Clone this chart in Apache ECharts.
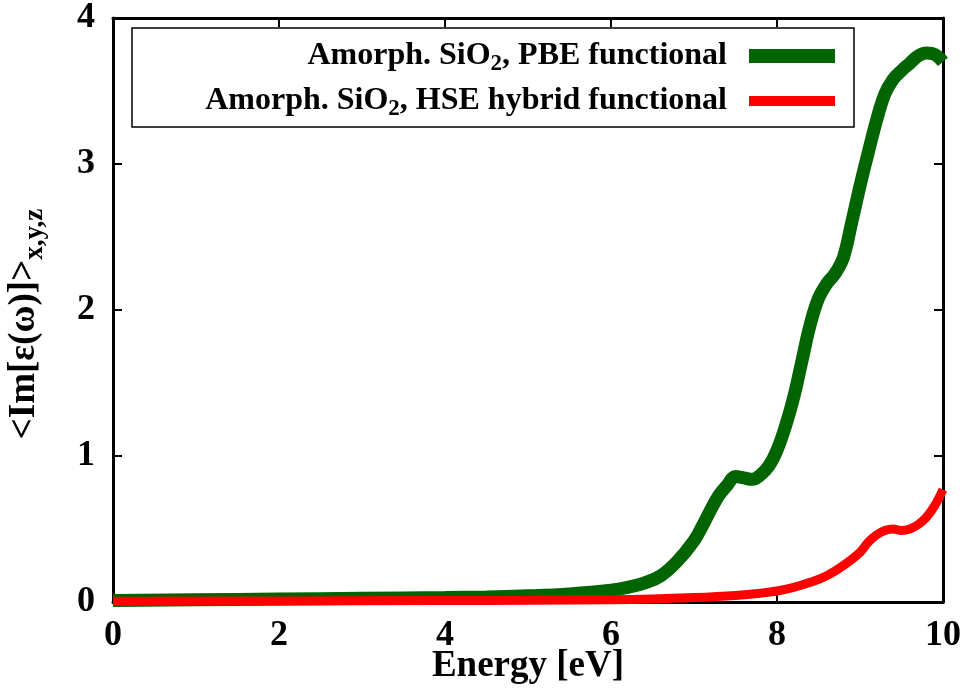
<!DOCTYPE html>
<html><head><meta charset="utf-8">
<script src="https://cdn.jsdelivr.net/npm/echarts@6/dist/echarts.min.js"></script>
<style>html,body{margin:0;padding:0;background:#fff}#c{width:972px;height:690px}</style>
</head><body><div id="c"></div>
<script>
const energyPBE = [0, 1, 2, 3, 4, 4.5, 5, 5.5, 6.0, 6.2, 6.4, 6.6, 6.8, 7.0, 7.1, 7.2, 7.3, 7.4, 7.5, 7.6, 7.7, 7.8, 7.9, 8.0, 8.1, 8.2, 8.3, 8.4, 8.5, 8.6, 8.7, 8.8, 8.9, 9.0, 9.1, 9.2, 9.3, 9.4, 9.5, 9.6, 9.7, 9.8, 9.9, 10.0];
const imPBE = [0.01, 0.015, 0.02, 0.025, 0.03, 0.035, 0.042, 0.055, 0.08, 0.1, 0.13, 0.18, 0.28, 0.42, 0.52, 0.63, 0.73, 0.8, 0.86, 0.85, 0.84, 0.87, 0.93, 1.04, 1.2, 1.4, 1.65, 1.9, 2.08, 2.18, 2.25, 2.36, 2.6, 2.85, 3.08, 3.3, 3.48, 3.58, 3.64, 3.69, 3.74, 3.76, 3.75, 3.7];
const energyHSE = [0, 2, 4, 5, 6, 6.5, 7, 7.5, 7.8, 8.0, 8.2, 8.4, 8.6, 8.8, 9.0, 9.1, 9.2, 9.3, 9.4, 9.5, 9.6, 9.7, 9.8, 9.9, 10.0];
const imHSE = [0.005, 0.007, 0.01, 0.012, 0.015, 0.02, 0.03, 0.045, 0.06, 0.075, 0.1, 0.135, 0.18, 0.25, 0.34, 0.41, 0.46, 0.49, 0.5, 0.49, 0.5, 0.53, 0.58, 0.66, 0.77];
const nameLabels = ['Amorph. SiO2, PBE functional', 'Amorph. SiO2, HSE hybrid functional'];
const xTitle = 'Energy [eV]';

const FONT = '"Liberation Serif", "Times New Roman", serif';
const chart = echarts.init(document.getElementById('c'));
const zip = (a, b) => a.map((v, i) => [v, b[i]]);
const legendRich = {
  t: {fontFamily: FONT, fontWeight: 'bold', fontSize: 32, color: '#000'},
  sub: {fontFamily: FONT, fontWeight: 'bold', fontSize: 23, color: '#000', padding: [17, 0, 0, 0]}
};
const legendFmt = n => n.split('SiO2').map(s => '{t|' + s + '}').join('{t|SiO}{sub|2}');
function mkLegend(name, top, h) {
  return {
    data: [name], right: 137, top: top, orient: 'vertical', align: 'right',
    itemWidth: 86, itemHeight: h, icon: 'rect', padding: 0,
    formatter: legendFmt, selectedMode: false,
    textStyle: {rich: legendRich, padding: [0, 17, 0, 0]}
  };
}
const axisTick = {show: true, inside: true, length: 9, lineStyle: {color: '#000', width: 2}};
const axisLine = {show: true, onZero: false, lineStyle: {color: '#000', width: 3}};
chart.setOption({
  animation: false,
  grid: {left: 113, right: 29, top: 18, bottom: 88, show: false, outerBoundsMode: 'none', containLabel: false},
  legend: [mkLegend(nameLabels[0], 40, 14), mkLegend(nameLabels[1], 85, 10)],
  graphic: [{type: 'rect', shape: {x: 132, y: 28, width: 722, height: 99}, style: {fill: 'none', stroke: '#000', lineWidth: 1.5}, z: 0}],
  xAxis: [{
    type: 'value', min: 0, max: 10, interval: 2, position: 'bottom',
    name: xTitle, nameLocation: 'middle', nameGap: 46, nameMoveOverlap: false,
    nameTextStyle: {fontFamily: FONT, fontWeight: 'bold', fontSize: 37, color: '#000'},
    axisLine: axisLine, axisTick: axisTick, splitLine: {show: false},
    axisLabel: {fontFamily: FONT, fontWeight: 'bold', fontSize: 36, color: '#000', margin: 16}
  }, {
    type: 'value', min: 0, max: 10, interval: 2, position: 'top',
    axisLine: axisLine, axisTick: axisTick, axisLabel: {show: false}, splitLine: {show: false}
  }],
  yAxis: [{
    type: 'value', min: 0, max: 4, interval: 1, position: 'left',
    name: '{m|<Im[ε(ω)]>}{s|x,y,z}', nameLocation: 'middle', nameGap: 64, nameRotate: 90, nameMoveOverlap: false,
    nameTextStyle: {padding: [0, 28, 0, 0], rich: {
      m: {fontFamily: FONT, fontWeight: 'bold', fontSize: 37, color: '#000'},
      s: {fontFamily: FONT, fontWeight: 'bold', fontSize: 27, color: '#000', padding: [22, 0, 0, 0]}
    }},
    axisLine: axisLine, axisTick: axisTick, splitLine: {show: false},
    axisLabel: {fontFamily: FONT, fontWeight: 'bold', fontSize: 36, color: '#000', margin: 18}
  }, {
    type: 'value', min: 0, max: 4, interval: 1, position: 'right',
    axisLine: axisLine, axisTick: axisTick, axisLabel: {show: false}, splitLine: {show: false}
  }],
  series: [{
    name: nameLabels[0], type: 'line', data: zip(energyPBE, imPBE), smooth: 0.4, showSymbol: false,
    clip: false, lineStyle: {color: '#006400', width: 13}, itemStyle: {color: '#006400'}, z: 3
  }, {
    name: nameLabels[1], type: 'line', data: zip(energyHSE, imHSE), smooth: 0.4, showSymbol: false,
    clip: false, lineStyle: {color: '#ff0000', width: 9}, itemStyle: {color: '#ff0000'}, z: 4
  }]
});
</script></body></html>
